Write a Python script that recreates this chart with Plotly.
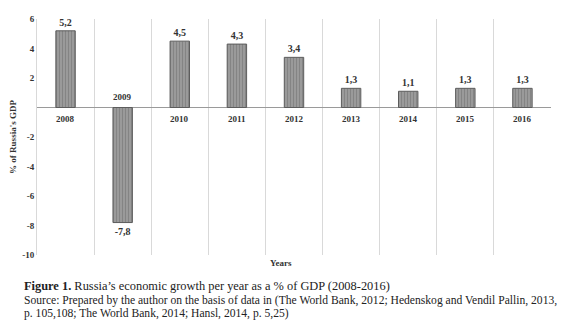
import plotly.graph_objects as go

years = ["2008", "2009", "2010", "2011", "2012", "2013", "2014", "2015", "2016"]
growth = [5.2, -7.8, 4.5, 4.3, 3.4, 1.3, 1.1, 1.3, 1.3]
value_labels = ["5,2", "-7,8", "4,5", "4,3", "3,4", "1,3", "1,1", "1,3", "1,3"]
y_ticks = [6, 4, 2, -2, -4, -6, -8, -10]

SERIF = "Liberation Serif, Times New Roman, serif"

fig = go.Figure()
fig.add_trace(go.Bar(
    x=years, y=growth, text=value_labels, textposition="outside",
    textfont=dict(family=SERIF, size=10, color="#333"),
    texttemplate="<b>%{text}</b>",
    width=0.34,
    marker=dict(color="#8e8e8e", line=dict(color="#5c5c5c", width=1),
                pattern=dict(shape="|", size=3, fgcolor="#6e6e6e", bgcolor="#9a9a9a", solidity=0.35)),
    cliponaxis=False,
))

for i, (yr, v) in enumerate(zip(years, growth)):
    fig.add_annotation(x=i, y=0, text="<b>%s</b>" % yr, showarrow=False,
                       yshift=-11 if v > 0 else 11,
                       font=dict(family=SERIF, size=9, color="#333"))

fig.add_annotation(xref="paper", yref="paper", x=0.475, y=0, xanchor="center", yanchor="top",
                   yshift=-1, showarrow=False, text="<b>Years</b>",
                   font=dict(family=SERIF, size=9, color="#333"))

CAP_X = (16 - 31) / 520
fig.add_annotation(xref="paper", yref="paper", x=CAP_X, y=0, xanchor="left", yanchor="top",
                   yshift=-22, showarrow=False, align="left",
                   text="<b>Figure 1.</b> Russia’s economic growth per year as a % of GDP (2008-2016)",
                   font=dict(family=SERIF, size=12.4, color="#222"))
fig.add_annotation(xref="paper", yref="paper", x=CAP_X, y=0, xanchor="left", yanchor="top",
                   yshift=-37, showarrow=False, align="left",
                   text="Source: Prepared by the author on the basis of data in (The World Bank, 2012; Hedenskog and Vendil Pallin, 2013,",
                   font=dict(family=SERIF, size=11.6, color="#222"))
fig.add_annotation(xref="paper", yref="paper", x=CAP_X, y=0, xanchor="left", yanchor="top",
                   yshift=-50, showarrow=False, align="left",
                   text="p. 105,108; The World Bank, 2014; Hansl, 2014, p. 5,25)",
                   font=dict(family=SERIF, size=11.6, color="#222"))

fig.update_layout(
    width=574, height=326,
    margin=dict(l=31, r=23, t=19, b=71),
    plot_bgcolor="white", paper_bgcolor="white",
    showlegend=False,
    font=dict(family=SERIF, color="#333"),
    xaxis=dict(type="category", categoryorder="array", categoryarray=years,
               range=[-0.5, len(years) - 0.5], tickson="boundaries",
               showgrid=True, gridcolor="#d9d9d9",
               showticklabels=False, ticks="", showline=False, zeroline=False),
    yaxis=dict(range=[-10, 6], tickvals=y_ticks, ticktext=["<b>%d</b>" % t for t in y_ticks],
               tickfont=dict(family=SERIF, size=9, color="#333"),
               showgrid=False, zeroline=True, zerolinecolor="#9a9a9a", zerolinewidth=1,
               showline=True, linecolor="#d9d9d9", linewidth=1, ticks="",
               title=dict(text="<b>% of Russia's GDP</b>", font=dict(family=SERIF, size=9, color="#333"), standoff=4)),
)

fig.write_html("out.html", config={"displayModeBar": False},
               post_script="document.body.style.margin='0';document.body.style.overflow='hidden';")
